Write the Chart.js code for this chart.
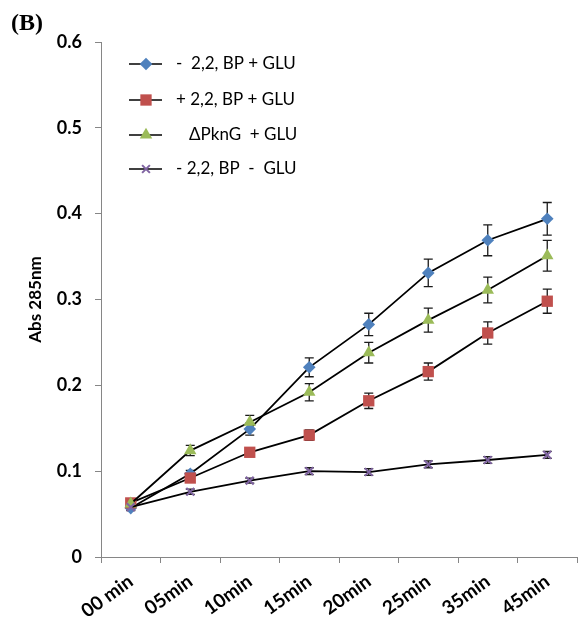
<!DOCTYPE html>
<html>
<head>
<meta charset="utf-8">
<script src="https://cdn.jsdelivr.net/npm/chart.js@4/dist/chart.umd.min.js"></script>
<style>
  html, body { margin: 0; padding: 0; background: #fff; }
  canvas { display: block; }
</style>
</head>
<body>
<canvas id="chart" width="581" height="617"></canvas>
<script>
// ====== DATA ======
const categories = ["00 min", "05min", "10min", "15min", "20min", "25min", "35min", "45min"];

const seriesLabels = ["-  2,2, BP + GLU", "+ 2,2, BP + GLU", "   \u0394PknG  + GLU", "- 2,2, BP  -  GLU"];

const bpMinusGlu    = [0.057, 0.097, 0.149, 0.221, 0.271, 0.331, 0.369, 0.394];
const bpMinusGluErr = [0.003, 0.004, 0.007, 0.011, 0.013, 0.016, 0.018, 0.019];

const bpPlusGlu     = [0.063, 0.092, 0.122, 0.142, 0.182, 0.216, 0.261, 0.298];
const bpPlusGluErr  = [0.003, 0.004, 0.005, 0.006, 0.009, 0.010, 0.013, 0.014];

const pkngGlu       = [0.062, 0.124, 0.157, 0.192, 0.238, 0.276, 0.311, 0.351];
const pkngGluErr    = [0.003, 0.006, 0.008, 0.010, 0.012, 0.014, 0.015, 0.018];

const bpNoGlu       = [0.058, 0.076, 0.089, 0.100, 0.099, 0.108, 0.113, 0.119];
const bpNoGluErr    = [0.003, 0.003, 0.003, 0.004, 0.004, 0.004, 0.004, 0.004];

const errors = [bpMinusGluErr, bpPlusGluErr, pkngGluErr, bpNoGluErr];

const FONT = "Lato, 'Open Sans', sans-serif";

// ====== PLUGINS ======
function drawMarker(ctx, style, x, y, r, color) {
  ctx.save();
  ctx.fillStyle = color;
  ctx.strokeStyle = color;
  ctx.beginPath();
  if (style === "rectRot") {
    ctx.moveTo(x, y - r); ctx.lineTo(x + r, y); ctx.lineTo(x, y + r); ctx.lineTo(x - r, y);
    ctx.closePath(); ctx.fill();
  } else if (style === "rect") {
    const s = r * Math.SQRT1_2;
    ctx.rect(x - s, y - s, 2 * s, 2 * s); ctx.fill();
  } else if (style === "triangle") {
    ctx.moveTo(x, y - r);
    ctx.lineTo(x + r * 0.866, y + r * 0.5);
    ctx.lineTo(x - r * 0.866, y + r * 0.5);
    ctx.closePath(); ctx.fill();
  } else {
    const d = r * Math.SQRT1_2;
    ctx.lineWidth = 2;
    ctx.moveTo(x - d, y - d); ctx.lineTo(x + d, y + d);
    ctx.moveTo(x + d, y - d); ctx.lineTo(x - d, y + d);
    ctx.stroke();
  }
  ctx.restore();
}

const errorBars = {
  id: "errorBars",
  beforeDatasetsDraw(chart) {
    const ctx = chart.ctx;
    const yScale = chart.scales.y;
    ctx.save();
    ctx.strokeStyle = "#1a1a1a";
    ctx.lineWidth = 1.3;
    chart.data.datasets.forEach((ds, i) => {
      const meta = chart.getDatasetMeta(i);
      meta.data.forEach((pt, j) => {
        const v = ds.data[j];
        const e = errors[i][j];
        const yt = yScale.getPixelForValue(v + e);
        const yb = yScale.getPixelForValue(v - e);
        ctx.beginPath();
        ctx.moveTo(pt.x, yt); ctx.lineTo(pt.x, yb);
        ctx.moveTo(pt.x - 4.5, yt); ctx.lineTo(pt.x + 4.5, yt);
        ctx.moveTo(pt.x - 4.5, yb); ctx.lineTo(pt.x + 4.5, yb);
        ctx.stroke();
      });
    });
    ctx.restore();
  }
};

const legendAndLabel = {
  id: "legendAndLabel",
  afterDraw(chart) {
    const ctx = chart.ctx;
    ctx.save();
    // panel letter
    ctx.fillStyle = "#000";
    ctx.font = "bold 24px 'Liberation Serif', serif";
    ctx.textBaseline = "alphabetic";
    ctx.fillText("(B)", 11, 30);

    // legend
    const rows = [64, 100, 135, 169];
    ctx.font = "17px " + FONT;
    ctx.textBaseline = "middle";
    chart.data.datasets.forEach((ds, i) => {
      const y = rows[i];
      ctx.strokeStyle = "#000";
      ctx.lineWidth = 1.5;
      ctx.beginPath();
      ctx.moveTo(129, y); ctx.lineTo(162, y);
      ctx.stroke();
      drawMarker(ctx, ds.pointStyle, 146, y, ds.pointRadius, ds.pointBackgroundColor);
      ctx.fillStyle = "#000";
      ctx.fillText(ds.label, 176, y);
    });
    ctx.restore();
  }
};

// ====== CHART ======
function makeSet(label, data, color, style, radius, order) {
  return {
    label,
    data,
    borderColor: "#000",
    borderWidth: 1.8,
    pointStyle: style,
    pointRadius: radius,
    pointHoverRadius: radius,
    pointBackgroundColor: color,
    pointBorderColor: color,
    pointBorderWidth: style === "crossRot" ? 2 : 0,
    tension: 0,
    fill: false,
    order
  };
}

new Chart(document.getElementById("chart"), {
  type: "line",
  data: {
    labels: categories,
    datasets: [
      makeSet(seriesLabels[0], bpMinusGlu, "#4F81BD", "rectRot", 6.3, 4),
      makeSet(seriesLabels[1], bpPlusGlu, "#C0504D", "rect", 8, 3),
      makeSet(seriesLabels[2], pkngGlu, "#9BBB59", "triangle", 7.2, 2),
      makeSet(seriesLabels[3], bpNoGlu, "#8064A2", "crossRot", 5.5, 1)
    ]
  },
  options: {
    responsive: false,
    animation: false,
    layout: { autoPadding: false, padding: { left: 0, top: 42, right: 4, bottom: 0 } },
    plugins: {
      legend: { display: false },
      tooltip: { enabled: false }
    },
    scales: {
      x: {
        type: "category",
        offset: true,
        grid: {
          offset: true,
          drawOnChartArea: false,
          drawTicks: true,
          tickLength: 6,
          color: "#868686"
        },
        border: { color: "#868686", width: 1 },
        ticks: {
          color: "#000",
          font: { family: FONT, size: 19, weight: "bold" },
          minRotation: 36,
          maxRotation: 36,
          padding: 7,
          autoSkip: false
        },
        afterFit(scale) {
          scale.height = 60;
          scale.paddingLeft = 0;
          scale.paddingRight = 0;
        }
      },
      y: {
        min: 0,
        max: 0.6,
        grid: {
          drawOnChartArea: false,
          drawTicks: true,
          tickLength: 6,
          color: "#868686"
        },
        border: { color: "#868686", width: 1 },
        ticks: {
          stepSize: 0.1,
          color: "#000",
          padding: 13,
          font: { family: FONT, size: 18, weight: "bold" },
          callback: v => String(+v.toFixed(1))
        },
        title: {
          display: true,
          text: "Abs 285nm",
          color: "#000",
          font: { family: FONT, size: 17, weight: "bold" },
          padding: { top: 25, bottom: 0 }
        },
        afterFit(scale) { scale.width = 101; }
      }
    }
  },
  plugins: [errorBars, legendAndLabel]
});
</script>
</body>
</html>
